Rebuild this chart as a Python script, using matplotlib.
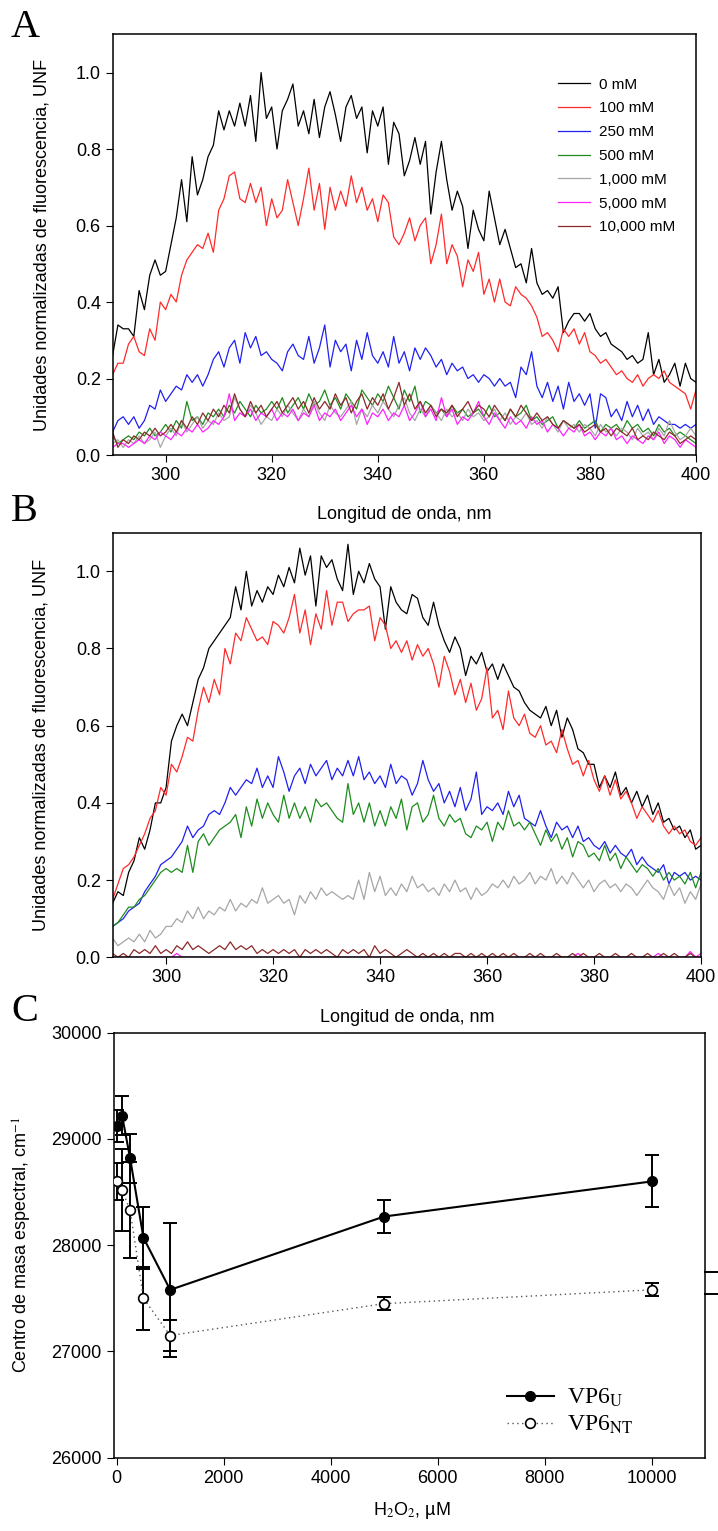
"""Fluorescence spectra (A, B) and spectral centre of mass vs H2O2 (C)."""

import matplotlib
matplotlib.use("Agg")
import matplotlib.pyplot as plt
import matplotlib as mpl
import numpy as np

mpl.rcParams.update({
    "font.family": "Liberation Sans",
    "font.size": 13,
    "xtick.labelsize": 13,
    "ytick.labelsize": 13,
    "xtick.direction": "out",
    "ytick.direction": "out",
    "xtick.major.size": 5,
    "ytick.major.size": 5,
    "axes.linewidth": 1.1,
    "mathtext.fontset": "stix",
})

# ---------------- data ----------------
wavelength = np.arange(290, 401)  # 1 nm steps, 290..400

labels = ["0 mM", "100 mM", "250 mM", "500 mM", "1,000 mM", "5,000 mM", "10,000 mM"]
colors = ["#000000", "#ff2a2a", "#2020f0", "#1e8c1e", "#a6a6a6", "#ff22ff", "#8b2a2a"]

# panel A
a_0 = [0.26, 0.34, 0.33, 0.33, 0.31, 0.43, 0.38, 0.47, 0.51, 0.47,
       0.48, 0.55, 0.62, 0.72, 0.61, 0.78, 0.68, 0.72, 0.78, 0.81,
       0.90, 0.85, 0.90, 0.86, 0.92, 0.86, 0.94, 0.82, 1.00, 0.88,
       0.91, 0.80, 0.90, 0.93, 0.97, 0.86, 0.90, 0.84, 0.93, 0.83,
       0.91, 0.95, 0.89, 0.82, 0.91, 0.94, 0.88, 0.91, 0.79, 0.90,
       0.86, 0.91, 0.76, 0.87, 0.84, 0.73, 0.77, 0.83, 0.76, 0.82,
       0.63, 0.74, 0.82, 0.72, 0.64, 0.69, 0.65, 0.54, 0.64, 0.59,
       0.56, 0.69, 0.62, 0.55, 0.59, 0.54, 0.49, 0.50, 0.45, 0.54,
       0.45, 0.42, 0.43, 0.41, 0.44, 0.32, 0.35, 0.37, 0.37, 0.35,
       0.37, 0.33, 0.31, 0.32, 0.29, 0.28, 0.27, 0.25, 0.26, 0.24,
       0.25, 0.32, 0.21, 0.25, 0.19, 0.21, 0.24, 0.18, 0.24, 0.20,
       0.19]
a_100 = [0.21, 0.24, 0.24, 0.29, 0.31, 0.27, 0.26, 0.33, 0.30, 0.40,
         0.38, 0.42, 0.40, 0.47, 0.51, 0.53, 0.55, 0.54, 0.58, 0.53,
         0.64, 0.67, 0.73, 0.74, 0.67, 0.66, 0.71, 0.66, 0.70, 0.60,
         0.67, 0.62, 0.64, 0.72, 0.66, 0.60, 0.67, 0.75, 0.64, 0.71,
         0.59, 0.70, 0.64, 0.69, 0.65, 0.73, 0.66, 0.70, 0.64, 0.67,
         0.61, 0.68, 0.66, 0.57, 0.55, 0.58, 0.62, 0.56, 0.60, 0.62,
         0.50, 0.55, 0.63, 0.50, 0.55, 0.52, 0.44, 0.51, 0.48, 0.53,
         0.42, 0.46, 0.40, 0.46, 0.40, 0.39, 0.44, 0.42, 0.41, 0.39,
         0.36, 0.31, 0.32, 0.30, 0.27, 0.33, 0.31, 0.33, 0.29, 0.32,
         0.27, 0.26, 0.24, 0.25, 0.23, 0.21, 0.22, 0.20, 0.19, 0.21,
         0.18, 0.20, 0.21, 0.20, 0.22, 0.19, 0.18, 0.17, 0.16, 0.12,
         0.17]
a_250 = [0.06, 0.09, 0.10, 0.08, 0.10, 0.07, 0.09, 0.13, 0.12, 0.17,
         0.14, 0.16, 0.18, 0.17, 0.21, 0.19, 0.21, 0.18, 0.21, 0.25,
         0.27, 0.23, 0.28, 0.30, 0.24, 0.32, 0.28, 0.31, 0.26, 0.27,
         0.25, 0.24, 0.22, 0.27, 0.29, 0.26, 0.25, 0.31, 0.24, 0.28,
         0.34, 0.23, 0.30, 0.27, 0.29, 0.22, 0.30, 0.25, 0.32, 0.26,
         0.24, 0.27, 0.23, 0.31, 0.24, 0.27, 0.22, 0.28, 0.25, 0.28,
         0.26, 0.23, 0.25, 0.21, 0.24, 0.22, 0.23, 0.20, 0.21, 0.19,
         0.21, 0.20, 0.18, 0.20, 0.18, 0.19, 0.15, 0.23, 0.21, 0.27,
         0.18, 0.15, 0.19, 0.14, 0.18, 0.12, 0.19, 0.14, 0.16, 0.13,
         0.16, 0.07, 0.16, 0.15, 0.10, 0.12, 0.09, 0.14, 0.10, 0.13,
         0.09, 0.12, 0.08, 0.10, 0.09, 0.08, 0.08, 0.07, 0.08, 0.07,
         0.08]
a_500 = [0.05, 0.03, 0.04, 0.05, 0.04, 0.06, 0.05, 0.07, 0.05, 0.06,
         0.08, 0.06, 0.09, 0.07, 0.14, 0.09, 0.10, 0.08, 0.11, 0.10,
         0.12, 0.10, 0.13, 0.11, 0.14, 0.12, 0.10, 0.13, 0.11, 0.12,
         0.14, 0.12, 0.15, 0.11, 0.13, 0.15, 0.12, 0.16, 0.13, 0.14,
         0.17, 0.13, 0.15, 0.12, 0.16, 0.14, 0.12, 0.17, 0.15, 0.13,
         0.16, 0.14, 0.18, 0.15, 0.12, 0.17, 0.14, 0.18, 0.11, 0.14,
         0.13, 0.11, 0.12, 0.10, 0.13, 0.11, 0.12, 0.10, 0.11, 0.12,
         0.10, 0.13, 0.10, 0.11, 0.09, 0.12, 0.10, 0.11, 0.13, 0.09,
         0.10, 0.08, 0.09, 0.10, 0.07, 0.09, 0.08, 0.07, 0.09, 0.07,
         0.08, 0.09, 0.06, 0.08, 0.07, 0.08, 0.06, 0.09, 0.07, 0.08,
         0.06, 0.07, 0.05, 0.08, 0.06, 0.07, 0.05, 0.06, 0.05, 0.04,
         0.03]
a_1000 = [0.03, 0.04, 0.02, 0.04, 0.03, 0.05, 0.03, 0.04, 0.06, 0.02,
          0.05, 0.07, 0.05, 0.09, 0.06, 0.08, 0.10, 0.07, 0.09, 0.08,
          0.11, 0.09, 0.10, 0.15, 0.12, 0.10, 0.13, 0.11, 0.08, 0.10,
          0.09, 0.12, 0.10, 0.13, 0.11, 0.09, 0.12, 0.10, 0.14, 0.11,
          0.09, 0.13, 0.11, 0.10, 0.12, 0.14, 0.08, 0.12, 0.10, 0.13,
          0.11, 0.14, 0.12, 0.10, 0.13, 0.15, 0.11, 0.09, 0.12, 0.10,
          0.13, 0.11, 0.09, 0.12, 0.10, 0.11, 0.09, 0.12, 0.10, 0.11,
          0.09, 0.10, 0.12, 0.09, 0.11, 0.08, 0.10, 0.09, 0.11, 0.08,
          0.09, 0.07, 0.10, 0.08, 0.06, 0.09, 0.07, 0.08, 0.06, 0.08,
          0.07, 0.05, 0.08, 0.06, 0.07, 0.05, 0.07, 0.06, 0.04, 0.07,
          0.05, 0.06, 0.04, 0.07, 0.05, 0.09, 0.06, 0.04, 0.05, 0.07,
          0.05]
a_5000 = [0.02, 0.03, 0.03, 0.02, 0.03, 0.04, 0.03, 0.05, 0.04, 0.06,
          0.05, 0.04, 0.06, 0.05, 0.07, 0.06, 0.08, 0.06, 0.07, 0.09,
          0.08, 0.10, 0.16, 0.09, 0.11, 0.10, 0.12, 0.09, 0.11, 0.10,
          0.12, 0.09, 0.11, 0.10, 0.12, 0.09, 0.11, 0.10, 0.13, 0.09,
          0.11, 0.10, 0.12, 0.09, 0.11, 0.13, 0.10, 0.12, 0.08, 0.11,
          0.10, 0.12, 0.09, 0.11, 0.10, 0.13, 0.09, 0.11, 0.14, 0.10,
          0.12, 0.09, 0.15, 0.10, 0.12, 0.08, 0.10, 0.09, 0.11, 0.14,
          0.10, 0.08, 0.11, 0.09, 0.07, 0.10, 0.08, 0.09, 0.07, 0.10,
          0.08, 0.09, 0.06, 0.08, 0.07, 0.05, 0.07, 0.06, 0.08, 0.05,
          0.06, 0.04, 0.06, 0.05, 0.07, 0.04, 0.05, 0.03, 0.05, 0.04,
          0.03, 0.05, 0.04, 0.06, 0.03, 0.05, 0.04, 0.02, 0.04, 0.03,
          0.02]
a_10000 = [0.06, 0.02, 0.04, 0.03, 0.05, 0.04, 0.06, 0.05, 0.07, 0.05,
           0.06, 0.08, 0.06, 0.09, 0.07, 0.10, 0.08, 0.11, 0.09, 0.12,
           0.10, 0.13, 0.11, 0.16, 0.12, 0.10, 0.14, 0.11, 0.13, 0.10,
           0.12, 0.14, 0.11, 0.13, 0.15, 0.12, 0.14, 0.11, 0.15, 0.12,
           0.14, 0.12, 0.16, 0.13, 0.15, 0.11, 0.14, 0.16, 0.12, 0.15,
           0.13, 0.16, 0.12, 0.15, 0.19, 0.13, 0.16, 0.12, 0.14, 0.11,
           0.13, 0.10, 0.12, 0.11, 0.13, 0.10, 0.12, 0.14, 0.11, 0.13,
           0.12, 0.10, 0.13, 0.11, 0.09, 0.12, 0.10, 0.13, 0.11, 0.09,
           0.11, 0.09, 0.10, 0.08, 0.07, 0.09, 0.08, 0.07, 0.08, 0.06,
           0.07, 0.08, 0.06, 0.07, 0.05, 0.07, 0.06, 0.05, 0.07, 0.04,
           0.05, 0.04, 0.06, 0.05, 0.04, 0.06, 0.05, 0.03, 0.04, 0.05,
           0.04]

# panel B
b_0 = [0.14, 0.17, 0.16, 0.22, 0.25, 0.31, 0.28, 0.33, 0.40, 0.40,
       0.44, 0.56, 0.60, 0.63, 0.60, 0.66, 0.72, 0.75, 0.80, 0.82,
       0.84, 0.86, 0.88, 0.96, 0.90, 1.00, 0.91, 0.95, 0.92, 0.96,
       0.94, 0.99, 0.96, 1.01, 0.97, 1.06, 0.99, 1.04, 0.91, 1.04,
       1.01, 1.03, 0.98, 0.95, 1.07, 0.94, 1.00, 0.97, 1.02, 0.98,
       0.96, 0.85, 0.96, 0.92, 0.90, 0.89, 0.94, 0.93, 0.88, 0.86,
       0.92, 0.86, 0.82, 0.79, 0.83, 0.80, 0.73, 0.78, 0.76, 0.79,
       0.74, 0.76, 0.72, 0.76, 0.73, 0.70, 0.69, 0.66, 0.64, 0.63,
       0.62, 0.65, 0.60, 0.64, 0.57, 0.62, 0.59, 0.54, 0.53, 0.50,
       0.50, 0.44, 0.47, 0.44, 0.48, 0.42, 0.44, 0.40, 0.43, 0.39,
       0.42, 0.37, 0.40, 0.35, 0.36, 0.33, 0.34, 0.31, 0.33, 0.28,
       0.29]
b_100 = [0.15, 0.19, 0.23, 0.24, 0.26, 0.29, 0.32, 0.36, 0.38, 0.44,
         0.42, 0.50, 0.48, 0.52, 0.57, 0.56, 0.64, 0.70, 0.66, 0.72,
         0.68, 0.80, 0.76, 0.84, 0.82, 0.88, 0.85, 0.82, 0.83, 0.81,
         0.87, 0.86, 0.84, 0.88, 0.94, 0.84, 0.90, 0.81, 0.89, 0.85,
         0.95, 0.86, 0.92, 0.92, 0.87, 0.89, 0.90, 0.90, 0.91, 0.82,
         0.88, 0.86, 0.80, 0.82, 0.79, 0.82, 0.77, 0.81, 0.78, 0.80,
         0.76, 0.70, 0.78, 0.74, 0.68, 0.72, 0.66, 0.71, 0.64, 0.67,
         0.75, 0.62, 0.64, 0.59, 0.69, 0.62, 0.60, 0.63, 0.58, 0.57,
         0.60, 0.55, 0.56, 0.53, 0.59, 0.54, 0.50, 0.51, 0.47, 0.51,
         0.46, 0.43, 0.47, 0.42, 0.46, 0.41, 0.43, 0.40, 0.36, 0.39,
         0.37, 0.35, 0.38, 0.34, 0.32, 0.34, 0.32, 0.33, 0.30, 0.29,
         0.31]
b_250 = [0.08, 0.09, 0.10, 0.12, 0.13, 0.14, 0.17, 0.19, 0.21, 0.24,
         0.25, 0.26, 0.28, 0.30, 0.34, 0.31, 0.33, 0.34, 0.37, 0.38,
         0.37, 0.40, 0.44, 0.42, 0.44, 0.46, 0.45, 0.49, 0.44, 0.47,
         0.44, 0.52, 0.48, 0.43, 0.47, 0.49, 0.45, 0.50, 0.47, 0.49,
         0.51, 0.46, 0.49, 0.47, 0.51, 0.47, 0.52, 0.46, 0.48, 0.45,
         0.47, 0.44, 0.50, 0.45, 0.47, 0.46, 0.42, 0.45, 0.51, 0.46,
         0.43, 0.45, 0.40, 0.43, 0.39, 0.44, 0.38, 0.41, 0.48, 0.37,
         0.39, 0.38, 0.40, 0.37, 0.43, 0.39, 0.42, 0.36, 0.35, 0.34,
         0.38, 0.34, 0.31, 0.35, 0.33, 0.34, 0.31, 0.34, 0.30, 0.31,
         0.29, 0.28, 0.30, 0.27, 0.29, 0.27, 0.26, 0.28, 0.24, 0.26,
         0.24, 0.23, 0.22, 0.24, 0.19, 0.22, 0.21, 0.22, 0.20, 0.21,
         0.20]
b_500 = [0.08, 0.09, 0.11, 0.13, 0.13, 0.15, 0.16, 0.18, 0.20, 0.22,
         0.23, 0.22, 0.23, 0.22, 0.29, 0.22, 0.30, 0.32, 0.29, 0.31,
         0.33, 0.34, 0.35, 0.37, 0.31, 0.39, 0.34, 0.41, 0.36, 0.40,
         0.37, 0.35, 0.42, 0.36, 0.40, 0.36, 0.39, 0.35, 0.41, 0.39,
         0.40, 0.38, 0.36, 0.35, 0.45, 0.37, 0.40, 0.35, 0.40, 0.34,
         0.38, 0.34, 0.39, 0.36, 0.41, 0.33, 0.39, 0.40, 0.35, 0.37,
         0.42, 0.36, 0.34, 0.37, 0.35, 0.36, 0.32, 0.31, 0.34, 0.33,
         0.35, 0.30, 0.35, 0.33, 0.38, 0.34, 0.35, 0.33, 0.35, 0.32,
         0.29, 0.33, 0.30, 0.32, 0.28, 0.31, 0.26, 0.30, 0.29, 0.26,
         0.27, 0.25, 0.29, 0.25, 0.27, 0.23, 0.26, 0.24, 0.22, 0.24,
         0.23, 0.21, 0.23, 0.20, 0.22, 0.20, 0.21, 0.19, 0.22, 0.18,
         0.22]
b_1000 = [0.05, 0.03, 0.04, 0.05, 0.04, 0.06, 0.04, 0.07, 0.05, 0.06,
          0.08, 0.08, 0.10, 0.09, 0.12, 0.10, 0.13, 0.10, 0.12, 0.11,
          0.13, 0.12, 0.15, 0.12, 0.14, 0.13, 0.15, 0.14, 0.18, 0.14,
          0.15, 0.16, 0.14, 0.15, 0.11, 0.16, 0.14, 0.17, 0.15, 0.18,
          0.16, 0.17, 0.16, 0.15, 0.16, 0.15, 0.20, 0.15, 0.22, 0.17,
          0.21, 0.16, 0.18, 0.16, 0.19, 0.17, 0.21, 0.18, 0.19, 0.17,
          0.18, 0.16, 0.19, 0.17, 0.20, 0.17, 0.18, 0.15, 0.18, 0.16,
          0.17, 0.19, 0.18, 0.20, 0.18, 0.21, 0.19, 0.20, 0.22, 0.19,
          0.21, 0.20, 0.23, 0.19, 0.21, 0.19, 0.22, 0.20, 0.18, 0.20,
          0.17, 0.19, 0.20, 0.18, 0.19, 0.17, 0.19, 0.18, 0.16, 0.18,
          0.20, 0.18, 0.17, 0.15, 0.19, 0.16, 0.18, 0.14, 0.17, 0.15,
          0.19]
b_5000 = [0.0, 0.0, 0.0, 0.0, 0.0, 0.0, 0.0, 0.0, 0.0, 0.0,
          0.0, 0.0, 0.01, 0.0, 0.0, 0.0, 0.0, 0.0, 0.0, 0.0,
          0.0, 0.0, 0.0, 0.0, 0.0, 0.0, 0.0, 0.0, 0.0, 0.0,
          0.0, 0.0, 0.0, 0.0, 0.0, 0.0, 0.0, 0.0, 0.0, 0.0,
          0.0, 0.0, 0.0, 0.0, 0.0, 0.0, 0.0, 0.0, 0.0, 0.0,
          0.0, 0.0, 0.0, 0.0, 0.0, 0.0, 0.0, 0.0, 0.0, 0.0,
          0.0, 0.0, 0.0, 0.0, 0.0, 0.0, 0.0, 0.0, 0.0, 0.0,
          0.0, 0.0, 0.0, 0.0, 0.0, 0.0, 0.0, 0.0, 0.0, 0.0,
          0.0, 0.0, 0.0, 0.0, 0.0, 0.0, 0.0, 0.01, 0.0, 0.0,
          0.0, 0.0, 0.0, 0.0, 0.0, 0.0, 0.0, 0.0, 0.0, 0.0,
          0.0, 0.0, 0.01, 0.0, 0.0, 0.0, 0.0, 0.0, 0.015, 0.0,
          0.01]
b_10000 = [0.01, 0.00, 0.01, 0.00, 0.02, 0.01, 0.02, 0.01, 0.03, 0.01,
           0.02, 0.01, 0.03, 0.02, 0.04, 0.02, 0.03, 0.02, 0.01, 0.02,
           0.03, 0.02, 0.04, 0.02, 0.03, 0.02, 0.03, 0.01, 0.02, 0.01,
           0.02, 0.01, 0.02, 0.01, 0.02, 0.00, 0.02, 0.01, 0.02, 0.01,
           0.02, 0.01, 0.00, 0.02, 0.01, 0.02, 0.01, 0.02, 0.00, 0.03,
           0.01, 0.02, 0.01, 0.00, 0.01, 0.02, 0.01, 0.00, 0.01, 0.00,
           0.01, 0.00, 0.01, 0.00, 0.01, 0.01, 0.00, 0.01, 0.00, 0.01,
           0.00, 0.01, 0.00, 0.01, 0.00, 0.01, 0.00, 0.00, 0.01, 0.00,
           0.01, 0.00, 0.00, 0.01, 0.00, 0.00, 0.01, 0.00, 0.01, 0.00,
           0.00, 0.01, 0.00, 0.00, 0.01, 0.00, 0.00, 0.01, 0.00, 0.00,
           0.01, 0.00, 0.00, 0.01, 0.00, 0.01, 0.00, 0.00, 0.01, 0.00,
           0.00]

panel_a = [a_0, a_100, a_250, a_500, a_1000, a_5000, a_10000]
panel_b = [b_0, b_100, b_250, b_500, b_1000, b_5000, b_10000]

# panel C
h2o2 = [0, 100, 250, 500, 1000, 5000, 10000]
vp6_u = [29120, 29220, 28820, 28070, 27580, 28270, 28600]
vp6_u_err = [150, 180, 230, 290, 630, 155, 245]
vp6_nt = [28600, 28520, 28330, 27500, 27150, 27450, 27580]
vp6_nt_err = [175, 390, 450, 295, 150, 60, 60]
stray_caps = [27750, 27540]

# ---------------- figure ----------------
W, H = 718, 1531
fig = plt.figure(figsize=(W / 100, H / 100), dpi=100)


def box(left, top, right, bottom):
    return [left / W, 1 - bottom / H, (right - left) / W, (bottom - top) / H]


ax_a = fig.add_axes(box(112.6, 34.3, 696, 455))
ax_b = fig.add_axes(box(112.6, 532.7, 701, 957.3))
ax_c = fig.add_axes(box(113.5, 1032.7, 705, 1457.7))

for ax, series in ((ax_a, panel_a), (ax_b, panel_b)):
    for vals, col, lab in zip(series, colors, labels):
        ax.plot(wavelength, vals, color=col, linewidth=0.9, label=lab)
    ax.set_xlim(290, 400)
    ax.set_ylim(0, 1.1)
    ax.set_xticks([300, 320, 340, 360, 380, 400])
    ax.set_yticks([0.0, 0.2, 0.4, 0.6, 0.8, 1.0])
    ax.yaxis.set_major_formatter(mpl.ticker.FormatStrFormatter("%.1f"))
    ax.tick_params(top=False, right=False)
    ax.set_xlabel("Longitud de onda, nm")
    ax.set_ylabel("Unidades normalizadas de fluorescencia, UNF")
    ax.xaxis.set_label_coords(0.5, -0.122)
    ax.yaxis.set_label_coords(-0.107, 0.5)

ax_a.legend(loc="upper left", bbox_to_anchor=(0.764, 0.897), frameon=False,
            fontsize=11, handlelength=2.1, handletextpad=0.55,
            labelspacing=0.64, borderaxespad=0, borderpad=0)

# panel C
ax_c.errorbar(h2o2, vp6_u, yerr=vp6_u_err, fmt="none", ecolor="black",
              elinewidth=1.4, capsize=5, capthick=1.4, zorder=2)
ax_c.errorbar(h2o2, vp6_nt, yerr=vp6_nt_err, fmt="none", ecolor="black",
              elinewidth=1.4, capsize=5, capthick=1.4, zorder=2)
ax_c.plot(h2o2, vp6_u, color="black", linewidth=1.5, marker="o",
          markersize=7, markerfacecolor="black", markeredgecolor="black",
          label=r"VP6$_{\mathrm{U}}$", zorder=3)
ax_c.plot(h2o2, vp6_nt, color="#555555", linewidth=1.0, linestyle=(0, (1, 2.5)),
          marker="o", markersize=7, markerfacecolor="white",
          markeredgecolor="black", markeredgewidth=1.2,
          label=r"VP6$_{\mathrm{NT}}$", zorder=3)
for yv in stray_caps:
    ax_c.plot([11000, 11250], [yv, yv], color="black", linewidth=1.4,
              clip_on=False)

ax_c.set_xlim(-60, 11000)
ax_c.set_ylim(26000, 30000)
ax_c.set_xticks([0, 2000, 4000, 6000, 8000, 10000])
ax_c.set_yticks([26000, 27000, 28000, 29000, 30000])
ax_c.tick_params(top=False, right=False)
ax_c.set_xlabel(r"H$_2$O$_2$, µM")
ax_c.set_ylabel(r"Centro de masa espectral, cm$^{-1}$")
ax_c.xaxis.set_label_coords(0.505, -0.1)
ax_c.yaxis.set_label_coords(-0.134, 0.5)
ax_c.legend(loc="lower left", bbox_to_anchor=(0.665, 0.05), frameon=False,
            prop={"family": "Liberation Serif", "size": 17},
            handlelength=2.0, handletextpad=0.55, labelspacing=0.2,
            borderaxespad=0, borderpad=0)

for letter, ypix in (("A", 37), ("B", 521), ("C", 1021)):
    fig.text(11 / W, 1 - ypix / H, letter, fontsize=29,
             family="Liberation Serif", ha="left", va="baseline")

fig.savefig("out.png", dpi=100)
